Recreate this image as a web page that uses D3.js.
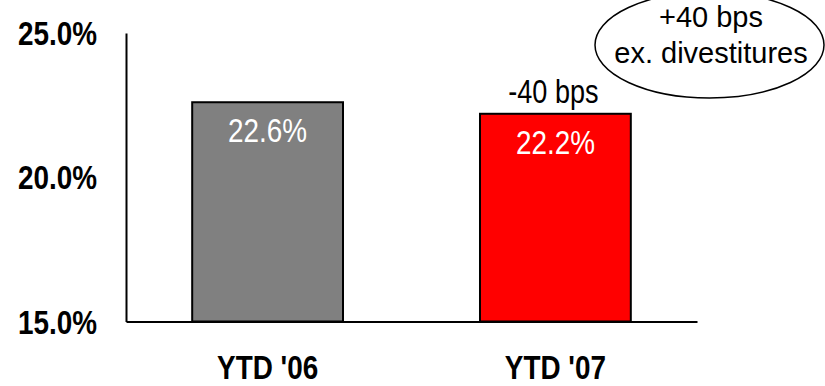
<!DOCTYPE html>
<html>
<head>
<meta charset="utf-8">
<script src="https://cdn.jsdelivr.net/npm/d3@7"></script>
<style>
  body { margin: 0; background: #fff; }
  text { font-family: "Liberation Sans", Arial, sans-serif; }
</style>
</head>
<body>
<script>
// Margin chart, YTD '06 vs YTD '07
const categories = ["YTD '06", "YTD '07"];
const values = [22.6, 22.2];
const valueLabels = ["22.6%", "22.2%"];
const barColors = ["#808080", "#ff0000"];
const yTicks = [15, 20, 25];
const changeLabel = "-40 bps";
const calloutLines = ["+40 bps", "ex. divestitures"];

const width = 825, height = 386;
// no narrow font installed, so squeeze Liberation Sans horizontally
const NARROW = 0.82;

function narrow(sel) {
    sel.each(function() {
        let t = d3.select(this);
        let x = +t.attr("x") || 0;
        let y = +t.attr("y") || 0;
        t.attr("x", 0).attr("y", 0)
            .attr("transform", "translate(" + x + "," + y + ") scale(" + NARROW + ",1)");
    });
}

let svg = d3.select("body").append("svg")
    .attr("width", width)
    .attr("height", height);

let xScale = d3.scaleBand()
    .domain(categories)
    .range([126, 697])
    .paddingInner(0.476)
    .paddingOuter(0.23);

let yScale = d3.scaleLinear()
    .domain([15, 25])
    .range([321.5, 33]);

// y axis - plain line with percent labels
let yAxis = d3.axisLeft(yScale)
    .tickValues(yTicks)
    .tickSize(0)
    .tickPadding(29)
    .tickFormat(d => d.toFixed(1) + "%");

let gy = svg.append("g")
    .attr("transform", "translate(126,0)")
    .call(yAxis);
gy.select(".domain").attr("stroke", "#000").attr("stroke-width", 2);
gy.selectAll("text")
    .attr("font-family", null)
    .attr("font-size", 34)
    .attr("font-weight", "bold")
    .attr("fill", "#000")
    .attr("dy", "0.34em")
    .call(narrow);

// bars
svg.selectAll(".bar")
    .data(values)
    .enter().append("rect")
    .attr("class", "bar")
    .attr("x", (d, i) => xScale(categories[i]))
    .attr("y", d => yScale(d))
    .attr("width", xScale.bandwidth())
    .attr("height", d => yScale(15) - yScale(d))
    .attr("fill", (d, i) => barColors[i])
    .attr("stroke", "#000")
    .attr("stroke-width", 2);

// x axis drawn after bars so the baseline sits on top
let xAxis = d3.axisBottom(xScale)
    .tickSize(0)
    .tickPadding(0);

let gx = svg.append("g")
    .attr("transform", "translate(0," + yScale(15) + ")")
    .call(xAxis);
gx.select(".domain").attr("stroke", "#000").attr("stroke-width", 2);
gx.selectAll("text")
    .attr("font-family", null)
    .attr("font-size", 34)
    .attr("font-weight", "bold")
    .attr("fill", "#000")
    .attr("dy", null)
    .attr("y", 57)
    .call(narrow);

// value labels inside bars
svg.selectAll(".vlabel")
    .data(values)
    .enter().append("text")
    .attr("class", "vlabel")
    .attr("x", (d, i) => xScale(categories[i]) + xScale.bandwidth() / 2)
    .attr("y", d => yScale(d) + 40)
    .attr("text-anchor", "middle")
    .attr("font-size", 34)
    .attr("fill", "#fff")
    .text((d, i) => valueLabels[i])
    .call(narrow);

// change label above the second bar
svg.append("text")
    .attr("x", xScale(categories[1]) + xScale.bandwidth() / 2 - 2)
    .attr("y", yScale(values[1]) - 11)
    .attr("text-anchor", "middle")
    .attr("font-size", 33)
    .attr("fill", "#000")
    .text(changeLabel)
    .call(narrow);

// callout ellipse
svg.append("ellipse")
    .attr("cx", 709.5)
    .attr("cy", 45)
    .attr("rx", 114.5)
    .attr("ry", 53)
    .attr("fill", "none")
    .attr("stroke", "#000")
    .attr("stroke-width", 1.5);

svg.selectAll(".callout")
    .data(calloutLines)
    .enter().append("text")
    .attr("class", "callout")
    .attr("x", 711)
    .attr("y", (d, i) => 27 + i * 36)
    .attr("text-anchor", "middle")
    .attr("font-size", 29)
    .attr("fill", "#000")
    .text(d => d);
</script>
</body>
</html>
